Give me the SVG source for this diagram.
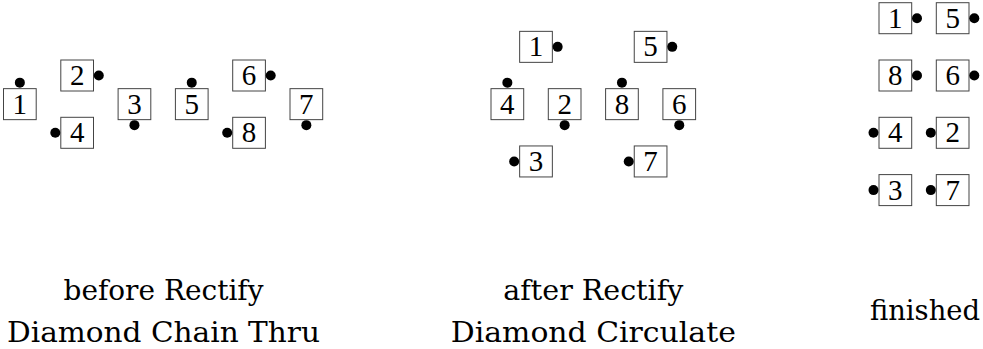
<svg xmlns="http://www.w3.org/2000/svg" width="983" height="349" viewBox="0 0 983 349">
<style>
  .box { fill: #fff; stroke: #444; stroke-width: 1; }
  .num { font-family: "Liberation Serif", "Times New Roman", serif; font-size: 29px; fill: #000; text-anchor: middle; }
  .dot { fill: #000; }
  .lbl { font-family: "DejaVu Serif", serif; font-size: 28px; fill: #000; text-anchor: middle; }
</style>
<defs>
  <rect id="b" class="box" x="0" y="0" width="32.7" height="31"/>
</defs>
<g id="connectors"></g>

<!-- Group 1: before Rectify Diamond Chain Thru -->
<g id="g1-n1" transform="translate(3.5,88.65)"><use href="#b"/><text class="num" x="16.35" y="25">1</text><circle class="dot" cx="16.35" cy="-6" r="5"/></g>
<g id="g1-n2" transform="translate(60.8,60)"><use href="#b"/><text class="num" x="16.35" y="25">2</text><circle class="dot" cx="38" cy="15.5" r="5"/></g>
<g id="g1-n4" transform="translate(60.8,117.3)"><use href="#b"/><text class="num" x="16.35" y="25">4</text><circle class="dot" cx="-5.5" cy="15.5" r="5"/></g>
<g id="g1-n3" transform="translate(118.1,88.65)"><use href="#b"/><text class="num" x="16.35" y="25">3</text><circle class="dot" cx="16.35" cy="36.5" r="5"/></g>
<g id="g1-n5" transform="translate(175.4,88.65)"><use href="#b"/><text class="num" x="16.35" y="25">5</text><circle class="dot" cx="16.35" cy="-6" r="5"/></g>
<g id="g1-n6" transform="translate(232.7,60)"><use href="#b"/><text class="num" x="16.35" y="25">6</text><circle class="dot" cx="38" cy="15.5" r="5"/></g>
<g id="g1-n8" transform="translate(232.7,117.3)"><use href="#b"/><text class="num" x="16.35" y="25">8</text><circle class="dot" cx="-5.5" cy="15.5" r="5"/></g>
<g id="g1-n7" transform="translate(290,88.65)"><use href="#b"/><text class="num" x="16.35" y="25">7</text><circle class="dot" cx="16.35" cy="36.5" r="5"/></g>

<!-- Group 2: after Rectify Diamond Circulate -->
<g id="g2-n1" transform="translate(519.65,31.35)"><use href="#b"/><text class="num" x="16.35" y="25">1</text><circle class="dot" cx="38" cy="15.5" r="5"/></g>
<g id="g2-n5" transform="translate(634.25,31.35)"><use href="#b"/><text class="num" x="16.35" y="25">5</text><circle class="dot" cx="38" cy="15.5" r="5"/></g>
<g id="g2-n4" transform="translate(491,88.65)"><use href="#b"/><text class="num" x="16.35" y="25">4</text><circle class="dot" cx="16.35" cy="-6" r="5"/></g>
<g id="g2-n2" transform="translate(548.3,88.65)"><use href="#b"/><text class="num" x="16.35" y="25">2</text><circle class="dot" cx="16.35" cy="36.5" r="5"/></g>
<g id="g2-n8" transform="translate(605.6,88.65)"><use href="#b"/><text class="num" x="16.35" y="25">8</text><circle class="dot" cx="16.35" cy="-6" r="5"/></g>
<g id="g2-n6" transform="translate(662.9,88.65)"><use href="#b"/><text class="num" x="16.35" y="25">6</text><circle class="dot" cx="16.35" cy="36.5" r="5"/></g>
<g id="g2-n3" transform="translate(519.65,145.95)"><use href="#b"/><text class="num" x="16.35" y="25">3</text><circle class="dot" cx="-5.5" cy="15.5" r="5"/></g>
<g id="g2-n7" transform="translate(634.25,145.95)"><use href="#b"/><text class="num" x="16.35" y="25">7</text><circle class="dot" cx="-5.5" cy="15.5" r="5"/></g>

<!-- Group 3: finished -->
<g id="g3-n1" transform="translate(879,2.7)"><use href="#b"/><text class="num" x="16.35" y="25">1</text><circle class="dot" cx="38" cy="15.5" r="5"/></g>
<g id="g3-n5" transform="translate(936.3,2.7)"><use href="#b"/><text class="num" x="16.35" y="25">5</text><circle class="dot" cx="38" cy="15.5" r="5"/></g>
<g id="g3-n8" transform="translate(879,60)"><use href="#b"/><text class="num" x="16.35" y="25">8</text><circle class="dot" cx="38" cy="15.5" r="5"/></g>
<g id="g3-n6" transform="translate(936.3,60)"><use href="#b"/><text class="num" x="16.35" y="25">6</text><circle class="dot" cx="38" cy="15.5" r="5"/></g>
<g id="g3-n4" transform="translate(879,117.3)"><use href="#b"/><text class="num" x="16.35" y="25">4</text><circle class="dot" cx="-5.5" cy="15.5" r="5"/></g>
<g id="g3-n2" transform="translate(936.3,117.3)"><use href="#b"/><text class="num" x="16.35" y="25">2</text><circle class="dot" cx="-5.5" cy="15.5" r="5"/></g>
<g id="g3-n3" transform="translate(879,174.6)"><use href="#b"/><text class="num" x="16.35" y="25">3</text><circle class="dot" cx="-5.5" cy="15.5" r="5"/></g>
<g id="g3-n7" transform="translate(936.3,174.6)"><use href="#b"/><text class="num" x="16.35" y="25">7</text><circle class="dot" cx="-5.5" cy="15.5" r="5"/></g>

<!-- Captions -->
<g id="labels">
  <text class="lbl" x="163.5" y="300" textLength="200" lengthAdjust="spacingAndGlyphs">before Rectify</text>
  <text class="lbl" x="163.5" y="342" textLength="313" lengthAdjust="spacingAndGlyphs">Diamond Chain Thru</text>
  <text class="lbl" x="593.3" y="300" textLength="180" lengthAdjust="spacingAndGlyphs">after Rectify</text>
  <text class="lbl" x="593.3" y="342" textLength="285" lengthAdjust="spacingAndGlyphs">Diamond Circulate</text>
  <text class="lbl" x="925" y="320" textLength="110" lengthAdjust="spacingAndGlyphs">finished</text>
</g>
</svg>
